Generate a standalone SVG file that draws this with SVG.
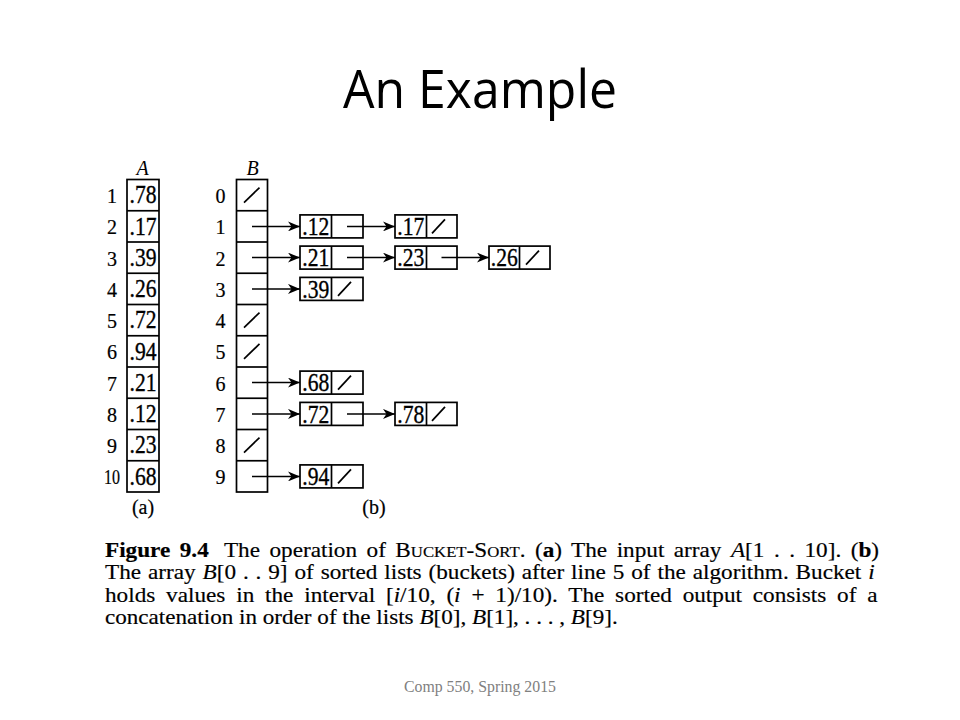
<svg xmlns="http://www.w3.org/2000/svg" width="960" height="720" viewBox="0 0 960 720">
<style>
.box{fill:none;stroke:#000;stroke-width:1.7}
.sl{stroke:#000;stroke-width:1.7;fill:none}
.val{font-family:"Liberation Serif","Times New Roman",serif;font-size:25px;fill:#000;stroke:#000;stroke-width:0.35;text-anchor:middle}
.idx{font-family:"Liberation Serif","Times New Roman",serif;font-size:20px;fill:#000;stroke:#000;stroke-width:0.2;text-anchor:middle}
.hd{font-family:"Liberation Serif","Times New Roman",serif;font-size:20px;font-style:italic;fill:#000;text-anchor:middle}
.cap{font-family:"Liberation Serif","Times New Roman",serif;font-size:21.5px;fill:#000;stroke:#000;stroke-width:0.18}
.b{font-weight:bold}
.i{font-style:italic}
.sc{font-size:15.5px}
.arr{stroke:#000;stroke-width:1.5;fill:none;marker-end:url(#ah)}
</style>
<defs>
<marker id="ah" markerUnits="userSpaceOnUse" viewBox="0 0 12 10" markerWidth="12" markerHeight="10" refX="12" refY="5" orient="auto">
<path d="M0,0 L12,5 L0,10 L3.5,5 Z" fill="#000"/>
</marker>
</defs>
<rect width="960" height="720" fill="#fff"/>
<text x="480" y="108" text-anchor="middle" font-family="'Open Sans','Noto Sans',sans-serif" font-size="53" textLength="274" lengthAdjust="spacingAndGlyphs" fill="#000">An Example</text>

<g id="arrayA">
<text class="hd" x="142.5" y="175">A</text>
<rect class="box" x="127" y="179.5" width="32" height="312.5"/>
<g class="sl">
<line x1="127" y1="210.75" x2="159" y2="210.75"/><line x1="127" y1="242" x2="159" y2="242"/><line x1="127" y1="273.25" x2="159" y2="273.25"/><line x1="127" y1="304.5" x2="159" y2="304.5"/><line x1="127" y1="335.75" x2="159" y2="335.75"/><line x1="127" y1="367" x2="159" y2="367"/><line x1="127" y1="398.25" x2="159" y2="398.25"/><line x1="127" y1="429.5" x2="159" y2="429.5"/><line x1="127" y1="460.75" x2="159" y2="460.75"/>
</g>
<text class="idx" x="112" y="203">1</text><text class="idx" x="112" y="234.2">2</text><text class="idx" x="112" y="265.5">3</text><text class="idx" x="112" y="296.7">4</text><text class="idx" x="112" y="328">5</text><text class="idx" x="112" y="359.2">6</text><text class="idx" x="112" y="390.5">7</text><text class="idx" x="112" y="421.7">8</text><text class="idx" x="112" y="453">9</text><text class="idx" x="112" y="484.2" textLength="16" lengthAdjust="spacingAndGlyphs">10</text>
<text class="val" x="143" y="203.4" textLength="27" lengthAdjust="spacingAndGlyphs">.78</text><text class="val" x="143" y="234.7" textLength="27" lengthAdjust="spacingAndGlyphs">.17</text><text class="val" x="143" y="265.9" textLength="27" lengthAdjust="spacingAndGlyphs">.39</text><text class="val" x="143" y="297.2" textLength="27" lengthAdjust="spacingAndGlyphs">.26</text><text class="val" x="143" y="328.4" textLength="27" lengthAdjust="spacingAndGlyphs">.72</text><text class="val" x="143" y="359.7" textLength="27" lengthAdjust="spacingAndGlyphs">.94</text><text class="val" x="143" y="390.9" textLength="27" lengthAdjust="spacingAndGlyphs">.21</text><text class="val" x="143" y="422.2" textLength="27" lengthAdjust="spacingAndGlyphs">.12</text><text class="val" x="143" y="453.4" textLength="27" lengthAdjust="spacingAndGlyphs">.23</text><text class="val" x="143" y="484.7" textLength="27" lengthAdjust="spacingAndGlyphs">.68</text>
<text class="idx" x="143" y="514">(a)</text>
</g>

<g id="arrayB">
<text class="hd" x="252.5" y="175">B</text>
<rect class="box" x="236.5" y="179.5" width="31" height="312.5"/>
<g class="sl">
<line x1="236.5" y1="210.75" x2="267.5" y2="210.75"/><line x1="236.5" y1="242" x2="267.5" y2="242"/><line x1="236.5" y1="273.25" x2="267.5" y2="273.25"/><line x1="236.5" y1="304.5" x2="267.5" y2="304.5"/><line x1="236.5" y1="335.75" x2="267.5" y2="335.75"/><line x1="236.5" y1="367" x2="267.5" y2="367"/><line x1="236.5" y1="398.25" x2="267.5" y2="398.25"/><line x1="236.5" y1="429.5" x2="267.5" y2="429.5"/><line x1="236.5" y1="460.75" x2="267.5" y2="460.75"/>
<line x1="244" y1="202.6" x2="259.5" y2="187.6"/>
<line x1="244" y1="327.6" x2="259.5" y2="312.6"/>
<line x1="244" y1="358.9" x2="259.5" y2="343.9"/>
<line x1="244" y1="452.6" x2="259.5" y2="437.6"/>
</g>
<text class="idx" x="220.5" y="203">0</text><text class="idx" x="220.5" y="234.2">1</text><text class="idx" x="220.5" y="265.5">2</text><text class="idx" x="220.5" y="296.7">3</text><text class="idx" x="220.5" y="328">4</text><text class="idx" x="220.5" y="359.2">5</text><text class="idx" x="220.5" y="390.5">6</text><text class="idx" x="220.5" y="421.7">7</text><text class="idx" x="220.5" y="453">8</text><text class="idx" x="220.5" y="484.2">9</text>
<text class="idx" x="374" y="514">(b)</text>
</g>

<g id="n12"><rect class="box" x="300" y="214.9" width="63" height="23"/><line class="sl" x1="331.5" y1="214.9" x2="331.5" y2="237.9"/><text class="val" x="315.8" y="235" textLength="27" lengthAdjust="spacingAndGlyphs">.12</text></g>
<g id="n17"><rect class="box" x="395" y="214.9" width="62" height="23"/><line class="sl" x1="426.5" y1="214.9" x2="426.5" y2="237.9"/><text class="val" x="410.8" y="235" textLength="27" lengthAdjust="spacingAndGlyphs">.17</text><line class="sl" x1="432" y1="233.4" x2="445" y2="219.4"/></g>
<g id="n21"><rect class="box" x="300" y="246.1" width="63" height="23"/><line class="sl" x1="331.5" y1="246.1" x2="331.5" y2="269.1"/><text class="val" x="315.8" y="266.2" textLength="27" lengthAdjust="spacingAndGlyphs">.21</text></g>
<g id="n23"><rect class="box" x="395" y="246.1" width="62" height="23"/><line class="sl" x1="426.5" y1="246.1" x2="426.5" y2="269.1"/><text class="val" x="410.8" y="266.2" textLength="27" lengthAdjust="spacingAndGlyphs">.23</text></g>
<g id="n26"><rect class="box" x="489" y="246.1" width="61" height="23"/><line class="sl" x1="519.5" y1="246.1" x2="519.5" y2="269.1"/><text class="val" x="504.3" y="266.2" textLength="27" lengthAdjust="spacingAndGlyphs">.26</text><line class="sl" x1="526" y1="264.6" x2="539" y2="250.6"/></g>
<g id="n39"><rect class="box" x="300" y="277.4" width="63" height="23"/><line class="sl" x1="331.5" y1="277.4" x2="331.5" y2="300.4"/><text class="val" x="315.8" y="297.5" textLength="27" lengthAdjust="spacingAndGlyphs">.39</text><line class="sl" x1="338" y1="295.9" x2="351" y2="281.9"/></g>
<g id="n68"><rect class="box" x="300" y="371.1" width="63" height="23"/><line class="sl" x1="331.5" y1="371.1" x2="331.5" y2="394.1"/><text class="val" x="315.8" y="391.2" textLength="27" lengthAdjust="spacingAndGlyphs">.68</text><line class="sl" x1="338" y1="389.6" x2="351" y2="375.6"/></g>
<g id="n72"><rect class="box" x="300" y="402.4" width="63" height="23"/><line class="sl" x1="331.5" y1="402.4" x2="331.5" y2="425.4"/><text class="val" x="315.8" y="422.5" textLength="27" lengthAdjust="spacingAndGlyphs">.72</text></g>
<g id="n78"><rect class="box" x="395" y="402.4" width="62" height="23"/><line class="sl" x1="426.5" y1="402.4" x2="426.5" y2="425.4"/><text class="val" x="410.8" y="422.5" textLength="27" lengthAdjust="spacingAndGlyphs">.78</text><line class="sl" x1="432" y1="420.9" x2="445" y2="406.9"/></g>
<g id="n94"><rect class="box" x="300" y="464.9" width="63" height="23"/><line class="sl" x1="331.5" y1="464.9" x2="331.5" y2="487.9"/><text class="val" x="315.8" y="485" textLength="27" lengthAdjust="spacingAndGlyphs">.94</text><line class="sl" x1="338" y1="483.4" x2="351" y2="469.4"/></g>

<g id="connectors">
<line class="arr" x1="252" y1="226.4" x2="300" y2="226.4"/>
<line class="arr" x1="347" y1="226.4" x2="395" y2="226.4"/>
<line class="arr" x1="252" y1="257.6" x2="300" y2="257.6"/>
<line class="arr" x1="347" y1="257.6" x2="395" y2="257.6"/>
<line class="arr" x1="441.5" y1="257.6" x2="489" y2="257.6"/>
<line class="arr" x1="252" y1="288.9" x2="300" y2="288.9"/>
<line class="arr" x1="252" y1="382.6" x2="300" y2="382.6"/>
<line class="arr" x1="252" y1="413.9" x2="300" y2="413.9"/>
<line class="arr" x1="347" y1="413.9" x2="395" y2="413.9"/>
<line class="arr" x1="252" y1="476.4" x2="300" y2="476.4"/>
</g>

<g id="caption">
<text class="cap" transform="translate(105,556.5) scale(1.08,1)" word-spacing="3.4"><tspan class="b">Figure 9.4</tspan><tspan dx="14">The operation of B</tspan><tspan class="sc">UCKET</tspan>-S<tspan class="sc">ORT</tspan>. (<tspan class="b">a</tspan>) The input array <tspan class="i">A</tspan>[1 . . 10]. (<tspan class="b">b</tspan>)</text>
<text class="cap" transform="translate(105,579) scale(1.08,1)" word-spacing="1">The array <tspan class="i">B</tspan>[0 . . 9] of sorted lists (buckets) after line 5 of the algorithm. Bucket <tspan class="i">i</tspan></text>
<text class="cap" transform="translate(105,601.5) scale(1.08,1)" word-spacing="4.65">holds values in the interval [<tspan class="i">i</tspan>/10, (<tspan class="i">i</tspan> + 1)/10). The sorted output consists of a</text>
<text class="cap" transform="translate(105,624) scale(1.075,1)">concatenation in order of the lists <tspan class="i">B</tspan>[0], <tspan class="i">B</tspan>[1], . . . , <tspan class="i">B</tspan>[9].</text>
</g>

<text x="480" y="692" text-anchor="middle" font-family="'Liberation Serif','Times New Roman',serif" font-size="16" fill="#808080" textLength="152" lengthAdjust="spacingAndGlyphs">Comp 550, Spring 2015</text>
</svg>
